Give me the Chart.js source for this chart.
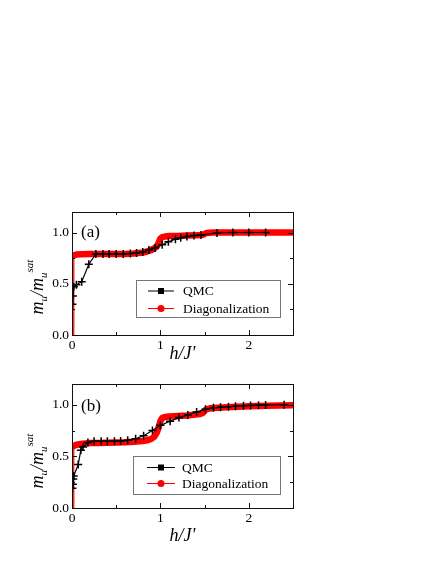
<!DOCTYPE html>
<html>
<head>
<meta charset="utf-8">
<script src="https://cdn.jsdelivr.net/npm/chart.js@4.4.0/dist/chart.umd.min.js"></script>
<style>
  body { margin: 0; width: 436px; height: 564px; background: #fff; position: relative; overflow: hidden; font-family: "Liberation Serif", "Times New Roman", serif; }
  canvas { position: absolute; left: 0; }
  .ytitle { position: absolute; transform: translate(-50%, -50%) rotate(-90deg); white-space: nowrap; font: italic 18px "Liberation Serif", serif; color: #000; }
  .ytitle sub { font-size: 11px; vertical-align: -4px; }
  .ytitle sup { font-size: 11px; vertical-align: 10px; }
</style>
</head>
<body>
<canvas id="chartA" width="300" height="170" style="top:200px"></canvas>
<canvas id="chartB" width="300" height="180" style="top:372px"></canvas>
<div class="ytitle" style="left:36px;top:287px">m<sub>u</sub>/m<sub>u</sub><sup>sat</sup></div>
<div class="ytitle" style="left:36px;top:461px">m<sub>u</sub>/m<sub>u</sub><sup>sat</sup></div>
<script>
// panel (a)
var qmcAX = [0.005, 0.01, 0.02, 0.05, 0.11, 0.19, 0.27, 0.35, 0.42, 0.5, 0.58, 0.66, 0.73, 0.8, 0.87, 0.94, 1.02, 1.09, 1.17, 1.23, 1.3, 1.38, 1.46, 1.64, 1.82, 2.0, 2.19];
var qmcAY = [0.3, 0.38, 0.47, 0.49, 0.52, 0.69, 0.79, 0.79, 0.79, 0.79, 0.79, 0.795, 0.8, 0.81, 0.83, 0.85, 0.88, 0.91, 0.935, 0.95, 0.96, 0.97, 0.975, 0.995, 1.0, 1.0, 1.0];
var diagAX = [0.015, 0.02, 0.05, 0.1, 0.2, 0.3, 0.4, 0.5, 0.6, 0.7, 0.75, 0.8, 0.85, 0.9, 0.93, 0.96, 0.98, 1.0, 1.02, 1.05, 1.1, 1.2, 1.3, 1.4, 1.45, 1.48, 1.5, 1.52, 1.55, 1.6, 1.8, 2.0, 2.2, 2.5];
var diagAY = [0, 0.775, 0.785, 0.788, 0.79, 0.79, 0.79, 0.79, 0.79, 0.795, 0.8, 0.805, 0.815, 0.83, 0.845, 0.865, 0.9, 0.94, 0.955, 0.96, 0.965, 0.967, 0.97, 0.972, 0.975, 0.978, 0.985, 0.995, 0.998, 1.0, 1.0, 1.0, 1.0, 1.0];

// panel (b)
var qmcBX = [0.005, 0.01, 0.015, 0.02, 0.07, 0.1, 0.125, 0.18, 0.25, 0.33, 0.4, 0.48, 0.55, 0.63, 0.72, 0.81, 0.91, 1.0, 1.11, 1.21, 1.31, 1.41, 1.51, 1.6, 1.68, 1.77, 1.85, 1.94, 2.02, 2.11, 2.19, 2.4];
var qmcBY = [0.19, 0.23, 0.28, 0.31, 0.42, 0.56, 0.59, 0.635, 0.645, 0.645, 0.645, 0.645, 0.648, 0.655, 0.67, 0.7, 0.75, 0.8, 0.84, 0.875, 0.9, 0.93, 0.955, 0.97, 0.975, 0.98, 0.985, 0.99, 0.993, 0.995, 0.997, 1.0];
var diagBX = [0.015, 0.02, 0.05, 0.1, 0.15, 0.2, 0.3, 0.4, 0.5, 0.6, 0.7, 0.8, 0.85, 0.9, 0.93, 0.96, 0.98, 1.0, 1.02, 1.05, 1.1, 1.2, 1.3, 1.4, 1.45, 1.48, 1.5, 1.52, 1.55, 1.6, 1.8, 2.0, 2.2, 2.5];
var diagBY = [0, 0.6, 0.612, 0.62, 0.625, 0.628, 0.63, 0.632, 0.634, 0.636, 0.64, 0.648, 0.655, 0.67, 0.69, 0.73, 0.78, 0.84, 0.87, 0.88, 0.885, 0.89, 0.895, 0.905, 0.91, 0.92, 0.94, 0.955, 0.962, 0.968, 0.978, 0.985, 0.99, 0.995];

var seriesNames = ["QMC", "Diagonalization"];
var xMajorTicks = [1, 2];
var xMinorTicks = [0.5, 1.5];
var yMajorTicks = [0.5, 1.0];
var yMinorTicks = [0.25, 0.75];

var SERIF = "'Liberation Serif', 'Times New Roman', serif";

function toPoints(xs, ys) {
  return xs.map(function (x, i) { return { x: x, y: ys[i] }; });
}

var framePlugin = {
  id: "frame",
  afterDatasetsDraw: function (chart) {
    var a = chart.chartArea, ctx = chart.ctx;
    var sx = chart.scales.x, sy = chart.scales.y;
    ctx.save();
    ctx.strokeStyle = "#111";
    ctx.lineWidth = 1;
    ctx.strokeRect(a.left + 0.5, a.top + 0.5, a.right - a.left, a.bottom - a.top);
    ctx.beginPath();
    function xt(list, len) {
      list.forEach(function (v) {
        var p = Math.round(sx.getPixelForValue(v)) + 0.5;
        ctx.moveTo(p, a.bottom); ctx.lineTo(p, a.bottom - len);
        ctx.moveTo(p, a.top); ctx.lineTo(p, a.top + len);
      });
    }
    function yt(list, len) {
      list.forEach(function (v) {
        var p = Math.round(sy.getPixelForValue(v)) + 0.5;
        ctx.moveTo(a.left, p); ctx.lineTo(a.left + len, p);
        ctx.moveTo(a.right, p); ctx.lineTo(a.right - len, p);
      });
    }
    xt(xMajorTicks, 5); xt(xMinorTicks, 3);
    yt(yMajorTicks, 5); yt(yMinorTicks, 3);
    ctx.stroke();
    ctx.restore();
  }
};

var legendPlugin = {
  id: "boxLegend",
  afterDraw: function (chart, args, opts) {
    var ctx = chart.ctx, b = opts.box;
    ctx.save();
    ctx.strokeStyle = "#777";
    ctx.lineWidth = 1;
    ctx.strokeRect(b[0] + 0.5, b[1] + 0.5, b[2], b[3]);
    ctx.font = "13.5px " + SERIF;
    ctx.textBaseline = "middle";
    ctx.fillStyle = "#000";
    var colors = ["#000000", "#ff0000"];
    opts.rows.forEach(function (ry, i) {
      ctx.strokeStyle = colors[i];
      ctx.beginPath();
      ctx.moveTo(opts.line[0], ry + 0.5);
      ctx.lineTo(opts.line[1], ry + 0.5);
      ctx.stroke();
      var mx = (opts.line[0] + opts.line[1]) / 2;
      ctx.fillStyle = colors[i];
      if (i === 0) {
        ctx.fillRect(mx - 3, ry - 2.5, 6, 6);
      } else {
        ctx.beginPath();
        ctx.arc(mx, ry + 0.5, 3.5, 0, Math.PI * 2);
        ctx.fill();
      }
      ctx.fillStyle = "#000";
      ctx.fillText(seriesNames[i], opts.textX, ry + 1);
    });
    ctx.font = "17px " + SERIF;
    ctx.fillText(opts.label, opts.labelPos[0], opts.labelPos[1]);
    ctx.restore();
  }
};

function makeChart(id, qx, qy, dx, dy, legendOpts) {
  return new Chart(document.getElementById(id), {
    type: "line",
    data: {
      datasets: [{
        label: seriesNames[0],
        data: toPoints(qx, qy),
        borderColor: "#000",
        borderWidth: 1.2,
        pointStyle: "cross",
        pointRadius: 4,
        pointBorderWidth: 1.5,
        pointBorderColor: "#000",
        tension: 0
      }, {
        label: seriesNames[1],
        data: toPoints(dx, dy),
        borderColor: "#ff0000",
        borderCapStyle: "round",
        borderJoinStyle: "round",
        pointRadius: 0,
        tension: 0,
        segment: {
          borderWidth: function (ctx) {
            return Math.abs(ctx.p1.parsed.y - ctx.p0.parsed.y) > 0.3 ? 1.2 : 6.5;
          }
        }
      }]
    },
    options: {
      responsive: false,
      animation: false,
      layout: { padding: { top: 12, right: 7, left: 0, bottom: 0 } },
      plugins: {
        legend: { display: false },
        tooltip: { enabled: false },
        boxLegend: legendOpts
      },
      scales: {
        x: {
          type: "linear",
          min: 0,
          max: 2.5,
          grid: { display: false, drawTicks: false },
          border: { display: false },
          ticks: {
            stepSize: 0.5,
            autoSkip: false,
            maxRotation: 0,
            padding: 2,
            color: "#000",
            font: { family: SERIF, size: 13.5 },
            callback: function (v) { return Math.abs(v - Math.round(v)) < 1e-6 ? String(Math.round(v)) : ""; }
          },
          title: {
            display: true,
            text: "h/J'",
            color: "#000",
            padding: { top: 0, bottom: 5 },
            font: { family: SERIF, size: 18, style: "italic" }
          },
          afterFit: function (scale) { scale.height = legendOpts.xHeight; }
        },
        y: {
          min: 0,
          max: 1.2,
          grid: { display: false, drawTicks: false },
          border: { display: false },
          ticks: {
            stepSize: 0.25,
            autoSkip: false,
            padding: 3,
            color: "#000",
            font: { family: SERIF, size: 13.5 },
            callback: function (v) {
              return (Math.abs(v * 2 - Math.round(v * 2)) < 1e-6 && v < 1.01) ? v.toFixed(1) : "";
            }
          },
          afterFit: function (scale) { scale.width = 72; }
        }
      }
    },
    plugins: [framePlugin, legendPlugin]
  });
}

makeChart("chartA", qmcAX, qmcAY, diagAX, diagAY, {
  box: [136, 80, 144, 37], rows: [90.5, 108], line: [148, 174], textX: 183,
  label: "(a)", labelPos: [81, 33], xHeight: 35
});
makeChart("chartB", qmcBX, qmcBY, diagBX, diagBY, {
  box: [133, 84, 147, 38], rows: [95, 111], line: [147, 175], textX: 182,
  label: "(b)", labelPos: [81, 35], xHeight: 44
});
</script>
</body>
</html>
